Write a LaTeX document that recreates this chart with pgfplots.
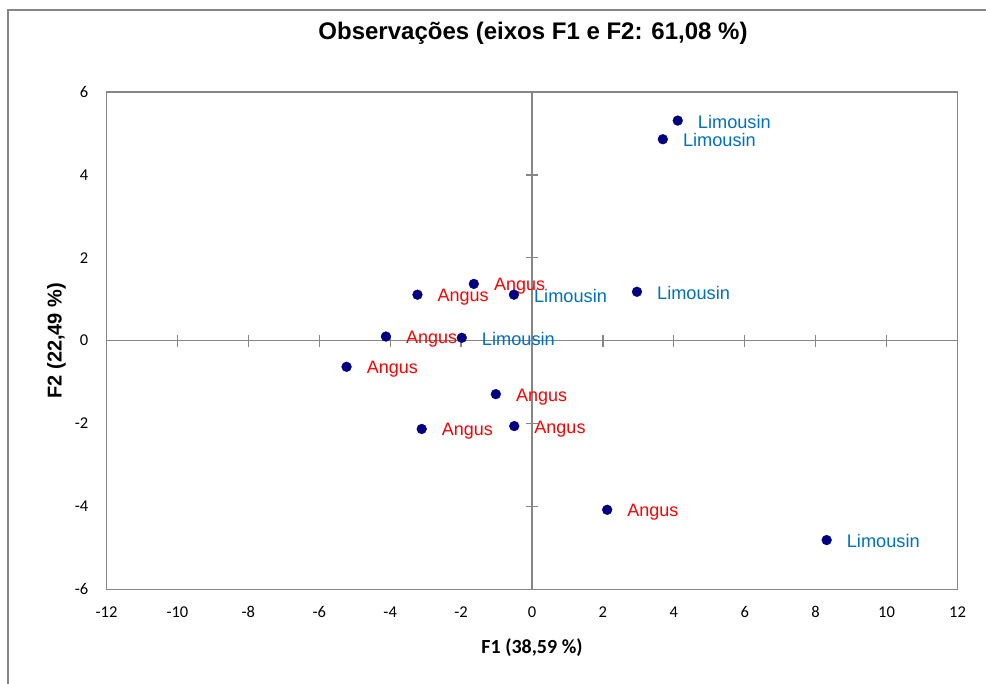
\documentclass[border=0pt]{standalone}
\usepackage{fontspec}
\setmainfont{Liberation Sans}
\newfontfamily\calibri{Carlito}
\usepackage{pgfplots}
\pgfplotsset{compat=1.18}
\definecolor{navyPt}{RGB}{0,0,128}
\definecolor{limblue}{RGB}{0,112,192}
\definecolor{axgray}{RGB}{134,134,134}

\pgfplotstableread{
x y label
-1.64 1.37 Angus
-3.23 1.11 Angus
-4.12 0.10 Angus
-5.23 -0.63 Angus
-1.02 -1.29 Angus
-3.11 -2.13 Angus
-0.50 -2.06 Angus
2.12 -4.08 Angus
}\angus

\pgfplotstableread{
x y label
4.11 5.31 Limousin
3.69 4.86 Limousin
-0.51 1.11 Limousin
2.96 1.18 Limousin
-1.98 0.07 Limousin
8.31 -4.81 Limousin
}\limousin

\begin{document}
\begin{tikzpicture}[x=1pt,y=1pt]
\useasboundingbox (0,0) rectangle (986,684);
\draw[axgray, line width=1.3pt] (8,0) -- (8,674) -- (986,674);
\node[anchor=base, inner sep=0, font=\bfseries\fontsize{24}{28}\selectfont] at (533,644) {Observações (eixos F1 e F2: 61,08 \%)};

% middle axes with crossing ticks
\begin{axis}[
 at={(106.5pt,94.6pt)}, anchor=south west,
 width=851pt, height=497.4pt, scale only axis,
 xmin=-12, xmax=12, ymin=-6, ymax=6,
 xtick={-12,-10,...,12}, ytick={-6,-4,...,6},
 axis lines=middle,
 axis line style={axgray, line width=1.3pt, -},
 tick style={axgray, line width=1.3pt},
 tick align=center,
 major tick length=12pt,
 xticklabels={}, yticklabels={},
]
\end{axis}

\begin{axis}[
 at={(106.5pt,94.6pt)}, anchor=south west,
 width=851pt, height=497.4pt, scale only axis,
 xmin=-12, xmax=12, ymin=-6, ymax=6,
 xtick={-12,-10,...,12}, ytick={-6,-4,...,6},
 axis line style={axgray, line width=1.3pt},
 major tick length=0pt,
 tick label style={font=\calibri\fontsize{16.5}{18}\selectfont, inner sep=0pt},
 /pgf/number format/assume math mode=true,
 xticklabel style={yshift=-17pt},
 yticklabel style={xshift=-18pt},
 xlabel={F1 (38,59 \%)},
 xlabel style={at={(axis description cs:0.5,0)}, anchor=base, yshift=-64pt, inner sep=0pt, font=\calibri\bfseries\fontsize{20}{22}\selectfont},
 ylabel={F2 (22,49 \%)},
 ylabel style={at={(axis description cs:-0.0527,0.5)}, anchor=base, inner sep=0pt, font=\bfseries\fontsize{20}{22}\selectfont},
 clip=false,
]
\addplot[only marks, mark=*, mark size=4.9pt, color=navyPt,
 nodes near coords, point meta=explicit symbolic,
 nodes near coords style={anchor=base west, xshift=20pt, yshift=-7pt, inner sep=0pt, text=red, font=\fontsize{18}{20}\selectfont}]
 table[x=x, y=y, meta=label] {\angus};
\addplot[only marks, mark=*, mark size=4.9pt, color=navyPt,
 nodes near coords, point meta=explicit symbolic,
 nodes near coords style={anchor=base west, xshift=20pt, yshift=-7.5pt, inner sep=0pt, text=limblue, font=\fontsize{18.2}{20}\selectfont}]
 table[x=x, y=y, meta=label] {\limousin};
\end{axis}
\end{tikzpicture}
\end{document}
